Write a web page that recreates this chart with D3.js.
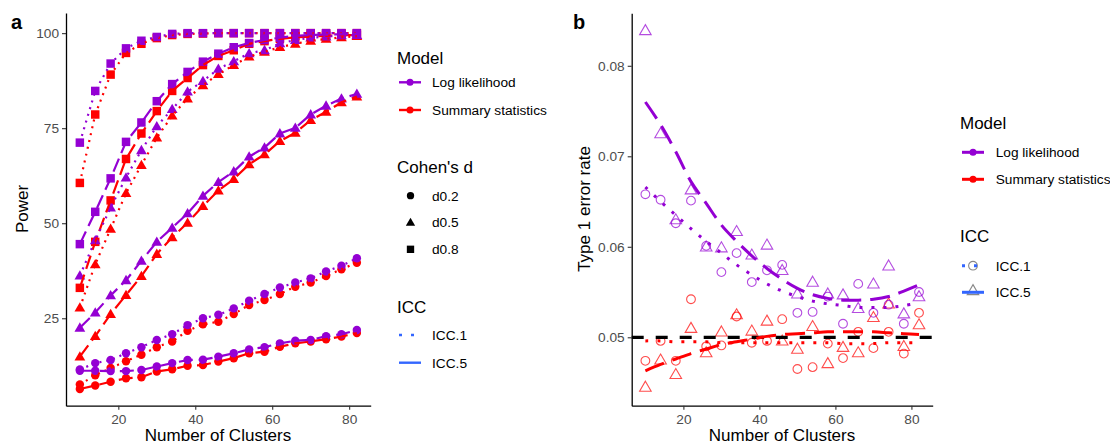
<!DOCTYPE html>
<html>
<head>
<meta charset="utf-8">
<script src="https://cdn.jsdelivr.net/npm/d3@7"></script>
<style>
  body { margin: 0; background: #fff; }
  text { font-family: "Liberation Sans", Arial, sans-serif; }
</style>
</head>
<body>
<svg id="chart" width="1110" height="445"></svg>
<script>
// number of clusters (same for both panels)
const clusters = [10,14,18,22,26,30,34,38,42,46,50,54,58,62,66,70,74,78,82];

// panel a: power (%)
const llD02Icc1 = [11.5,13.2,14.0,15.8,17.4,19.3,20.8,23.2,25.0,25.9,27.6,29.6,31.4,33.1,34.4,35.5,37.3,38.8,40.8];
const ssD02Icc1 = [7.6,10.0,11.9,13.7,15.4,17.4,18.9,21.7,23.4,24.1,26.1,28.5,29.8,31.4,33.3,34.4,36.1,37.9,39.6];
const llD02Icc5 = [11.2,11.2,11.1,11.1,11.4,12.3,13.2,14.0,14.1,14.9,15.8,16.8,17.4,18.4,19.1,19.3,20.3,20.8,21.9];
const ssD02Icc5 = [6.4,7.3,8.3,9.2,9.5,11.0,11.6,12.5,12.7,13.6,14.5,15.8,16.2,17.5,18.4,18.9,19.5,20.2,21.1];
const llD05Icc1 = [36.2,45.5,54.1,62.0,69.2,75.5,80.0,84.6,87.4,90.6,92.6,94.7,95.5,97.3,98.2,98.8,99.1,99.4,99.5];
const ssD05Icc1 = [27.8,39.2,48.5,57.9,65.3,72.5,78.3,82.8,86.3,89.2,91.6,93.8,95.1,96.3,97.2,98.0,98.5,98.9,99.2];
const llD05Icc5 = [22.5,26.5,31.0,35.0,40.1,45.1,48.8,52.6,57.2,60.8,63.6,67.5,69.9,73.6,75.1,78.6,80.9,82.8,84.0];
const ssD05Icc5 = [14.9,20.3,26.1,31.1,36.1,41.9,46.3,50.1,54.5,58.6,61.6,65.5,68.1,71.6,73.8,77.1,79.3,81.8,83.3];
const llD08Icc1 = [71.2,84.8,92.0,96.0,98.0,99.0,99.8,100,100,100,100,100,100,100,100,100,100,100,100];
const ssD08Icc1 = [60.6,78.6,89.1,94.8,97.2,98.7,99.5,99.8,99.9,100,100,100,100,100,100,100,100,100,100];
const llD08Icc5 = [44.5,53.0,61.8,71.4,76.5,82.1,86.6,89.8,92.5,94.6,96.3,97.4,98.2,98.8,99.3,99.5,99.6,99.7,99.8];
const ssD08Icc5 = [33.0,45.1,56.0,66.9,73.6,79.5,84.8,88.2,91.6,94.0,95.5,97.2,97.9,98.5,98.9,99.1,99.3,99.5,99.5];

// panel b: type 1 error rate, points
const llIcc1Rate = [0.0658,0.0652,0.0626,0.0651,0.0601,0.0572,0.0593,0.0561,0.0574,0.0580,0.0527,0.0528,0.0545,0.0515,0.0559,0.0527,0.0536,0.0515,0.0550];
const llIcc5Rate = [0.0839,0.0725,0.0630,0.0663,0.0600,0.0599,0.0617,0.0591,0.0602,0.0574,0.0548,0.0561,0.0548,0.0547,0.0532,0.0559,0.0579,0.0526,0.0545];
const ssIcc1Rate = [0.0474,0.0496,0.0474,0.0542,0.0490,0.0491,0.0523,0.0494,0.0496,0.0520,0.0465,0.0467,0.0493,0.0477,0.0506,0.0488,0.0506,0.0482,0.0527];
const ssIcc5Rate = [0.0445,0.0475,0.0459,0.0510,0.0483,0.0506,0.0525,0.0507,0.0518,0.0496,0.0487,0.0512,0.0471,0.0489,0.0483,0.0522,0.0537,0.0490,0.0514];

// panel b: smoothed curves
const llIcc1Smooth = [0.0666,0.0650,0.0635,0.0620,0.0606,0.0593,0.0580,0.0569,0.0559,0.0551,0.0545,0.0540,0.0537,0.0535,0.0533,0.0533,0.0533,0.0535,0.0538];
const llIcc5Smooth = [0.0760,0.0735,0.0705,0.0672,0.0648,0.0624,0.0606,0.0590,0.0576,0.0564,0.0554,0.0547,0.0543,0.0541,0.0541,0.0542,0.0545,0.0551,0.0558];
const ssIcc1Smooth = [0.0496,0.0496,0.0495,0.0495,0.0495,0.0494,0.0494,0.0494,0.0494,0.0494,0.0494,0.0494,0.0494,0.0493,0.0493,0.0493,0.0494,0.0494,0.0494];
const ssIcc5Smooth = [0.0463,0.0470,0.0476,0.0482,0.0487,0.0492,0.0495,0.0498,0.0501,0.0503,0.0504,0.0505,0.0506,0.0506,0.0506,0.0506,0.0505,0.0504,0.0503];
const nominalRate = 0.05;

const purple = '#9400D3';
const red = '#FF0000';
const blue = '#3366FF';
const dotDash = '2,5';
const longDash = '14,6';

const svg = d3.select('#chart');
svg.append('rect').attr('width',1110).attr('height',445).attr('fill','#fff');

function styleAxis(g){
    g.select('.domain').attr('stroke','#000').attr('stroke-width',1.3);
    g.selectAll('.tick line').attr('stroke','#333').attr('stroke-width',1.1);
    g.selectAll('.tick text').attr('fill','#4d4d4d').style('font-size','13.7px');
}

function symbolPath(shape, size){
    const t = {circle: d3.symbolCircle, triangle: d3.symbolTriangle, square: d3.symbolSquare}[shape];
    return d3.symbol().type(t).size(size)();
}

function panelA(){
    const x = d3.scaleLinear().domain([6.4,85.6]).range([66,370.7]);
    const y = d3.scaleLinear().domain([2.0,105.3]).range([405.7,13]);
    const g = svg.append('g').attr('id','panelA');

    const series = [
        {v: ssD02Icc1, col: red, shape:'circle', dash: dotDash},
        {v: ssD02Icc5, col: red, shape:'circle', dash: longDash},
        {v: ssD05Icc1, col: red, shape:'triangle', dash: dotDash},
        {v: ssD05Icc5, col: red, shape:'triangle', dash: longDash},
        {v: ssD08Icc1, col: red, shape:'square', dash: dotDash},
        {v: ssD08Icc5, col: red, shape:'square', dash: longDash},
        {v: llD02Icc1, col: purple, shape:'circle', dash: dotDash},
        {v: llD02Icc5, col: purple, shape:'circle', dash: longDash},
        {v: llD05Icc1, col: purple, shape:'triangle', dash: dotDash},
        {v: llD05Icc5, col: purple, shape:'triangle', dash: longDash},
        {v: llD08Icc1, col: purple, shape:'square', dash: dotDash},
        {v: llD08Icc5, col: purple, shape:'square', dash: longDash}
    ];
    const sizes = {circle: 56, triangle: 50, square: 72};

    series.forEach(s => {
        g.append('g').selectAll('path')
            .data(clusters.map((c,i) => [c, s.v[i]])).enter()
            .append('path')
            .attr('d', symbolPath(s.shape, sizes[s.shape]))
            .attr('transform', d => 'translate(' + x(d[0]) + ',' + (y(d[1]) + (s.shape=='triangle' ? 0.8 : 0)) + ')')
            .attr('fill', s.col);
    });

    const line = d3.line().x(d => x(d[0])).y(d => y(d[1]));
    series.forEach(s => {
        g.append('path')
            .datum(clusters.map((c,i) => [c, s.v[i]]))
            .attr('d', line)
            .attr('fill','none')
            .attr('stroke', s.col)
            .attr('stroke-width', 2.2)
            .attr('stroke-dasharray', s.dash);
    });

    g.append('g').attr('transform','translate(0,405.7)')
        .call(d3.axisBottom(x).tickValues([20,40,60,80]).tickSize(4).tickSizeOuter(0).tickPadding(5))
        .call(styleAxis);
    g.append('g').attr('transform','translate(66,0)')
        .call(d3.axisLeft(y).tickValues([25,50,75,100]).tickSize(4).tickSizeOuter(0).tickPadding(3))
        .call(styleAxis);

    g.append('text').attr('x',218).attr('y',440.5).attr('text-anchor','middle')
        .style('font-size','17px').attr('fill','#000').text('Number of Clusters');
    g.append('text').attr('transform','translate(28,209) rotate(-90)').attr('text-anchor','middle')
        .style('font-size','17px').attr('fill','#000').text('Power');
    g.append('text').attr('x',11).attr('y',29).style('font-size','20px').style('font-weight','bold').text('a');

    // legends
    const lg = g.append('g').attr('id','legendA');
    const title = (t, yc) => lg.append('text').attr('x',397).attr('y',yc+6).style('font-size','17px').text(t);
    const label = (t, yc) => lg.append('text').attr('x',432).attr('y',yc+5).style('font-size','13.7px').text(t);

    title('Model', 58.3);
    [['Log likelihood', purple, 82.3], ['Summary statistics', red, 110]].forEach(r => {
        lg.append('line').attr('x1',399).attr('x2',421).attr('y1',r[2]).attr('y2',r[2]).attr('stroke',r[1]).attr('stroke-width',2.4);
        lg.append('circle').attr('cx',410).attr('cy',r[2]).attr('r',3.5).attr('fill',r[1]);
        label(r[0], r[2]);
    });

    title("Cohen's d", 166.7);
    [['d0.2','circle',195.7], ['d0.5','triangle',222.3], ['d0.8','square',249.3]].forEach(r => {
        lg.append('path').attr('d', symbolPath(r[1], sizes[r[1]] * 0.75))
            .attr('transform','translate(410.5,' + (r[2] + (r[1]=='triangle' ? 0.8 : 0)) + ')').attr('fill','#000');
        label(r[0], r[2]);
    });

    title('ICC', 306.7);
    [['ICC.1', '3,9', 335], ['ICC.5', null, 362.7]].forEach(r => {
        lg.append('line').attr('x1',399).attr('x2',421).attr('y1',r[2]).attr('y2',r[2])
            .attr('stroke',blue).attr('stroke-width',2.4).attr('stroke-dasharray', r[1]);
        label(r[0], r[2]);
    });
}

function panelB(){
    const x = d3.scaleLinear().domain([6.4,85.6]).range([631.7,932.7]);
    const y = d3.scaleLinear().domain([0.04244,0.0858]).range([405.7,13.3]);
    const g = svg.append('g').attr('id','panelB');

    const pts = [
        {v: ssIcc1Rate, col: red, shape:'circle'},
        {v: ssIcc5Rate, col: red, shape:'triangle'},
        {v: llIcc1Rate, col: purple, shape:'circle'},
        {v: llIcc5Rate, col: purple, shape:'triangle'}
    ];
    const sizes = {circle: 60, triangle: 58};
    pts.forEach(s => {
        g.append('g').selectAll('path')
            .data(clusters.map((c,i) => [c, s.v[i]])).enter()
            .append('path')
            .attr('d', symbolPath(s.shape, sizes[s.shape]))
            .attr('transform', d => 'translate(' + x(d[0]) + ',' + (y(d[1]) + (s.shape=='triangle' ? 0.8 : 0)) + ')')
            .attr('fill','none')
            .attr('stroke', s.col)
            .attr('stroke-opacity', 0.7)
            .attr('stroke-width', 1.1);
    });

    g.append('line').attr('x1',631.7).attr('x2',932.7).attr('y1',y(nominalRate)).attr('y2',y(nominalRate))
        .attr('stroke','#000').attr('stroke-width',3.2).attr('stroke-dasharray','12,12');

    const smooth = [
        {v: ssIcc1Smooth, col: red, dash: '3,9'},
        {v: ssIcc5Smooth, col: red, dash: '20,9'},
        {v: llIcc1Smooth, col: purple, dash: '3,9'},
        {v: llIcc5Smooth, col: purple, dash: '20,9'}
    ];
    const line = d3.line().x(d => x(d[0])).y(d => y(d[1])).curve(d3.curveCatmullRom);
    smooth.forEach(s => {
        g.append('path')
            .datum(clusters.map((c,i) => [c, s.v[i]]))
            .attr('d', line)
            .attr('fill','none')
            .attr('stroke', s.col)
            .attr('stroke-width', 3)
            .attr('stroke-dasharray', s.dash);
    });

    g.append('g').attr('transform','translate(0,405.7)')
        .call(d3.axisBottom(x).tickValues([20,40,60,80]).tickSize(4).tickSizeOuter(0).tickPadding(5))
        .call(styleAxis);
    g.append('g').attr('transform','translate(631.7,0)')
        .call(d3.axisLeft(y).tickValues([0.05,0.06,0.07,0.08]).tickFormat(d3.format('.2f')).tickSize(4).tickSizeOuter(0).tickPadding(3))
        .call(styleAxis);

    g.append('text').attr('x',782).attr('y',440.5).attr('text-anchor','middle')
        .style('font-size','17px').text('Number of Clusters');
    g.append('text').attr('transform','translate(590,209) rotate(-90)').attr('text-anchor','middle')
        .style('font-size','17px').text('Type 1 error rate');
    g.append('text').attr('x',573).attr('y',29).style('font-size','20px').style('font-weight','bold').text('b');

    const lg = g.append('g').attr('id','legendB');
    const title = (t, yc) => lg.append('text').attr('x',960).attr('y',yc+6).style('font-size','17px').text(t);
    const label = (t, yc) => lg.append('text').attr('x',995.7).attr('y',yc+5).style('font-size','13.7px').text(t);

    title('Model', 123.3);
    [['Log likelihood', purple, 152.3], ['Summary statistics', red, 179.3]].forEach(r => {
        lg.append('line').attr('x1',962).attr('x2',984).attr('y1',r[2]).attr('y2',r[2]).attr('stroke',r[1]).attr('stroke-width',3);
        lg.append('circle').attr('cx',973).attr('cy',r[2]).attr('r',3.5).attr('fill',r[1]);
        label(r[0], r[2]);
    });

    title('ICC', 236.3);
    [['ICC.1', '3,9', 'circle', 265.7], ['ICC.5', null, 'triangle', 292.3]].forEach(r => {
        lg.append('path').attr('d', symbolPath(r[2], sizes[r[2]]))
            .attr('transform','translate(973,' + (r[3] + (r[2]=='triangle' ? -1 : 0)) + ')')
            .attr('fill','none').attr('stroke','#555').attr('stroke-opacity',0.7).attr('stroke-width',1.1);
        lg.append('line').attr('x1',962).attr('x2',984).attr('y1',r[3]).attr('y2',r[3])
            .attr('stroke',blue).attr('stroke-width',3).attr('stroke-dasharray', r[1]);
        label(r[0], r[3]);
    });
}

panelA();
panelB();
</script>
</body>
</html>
